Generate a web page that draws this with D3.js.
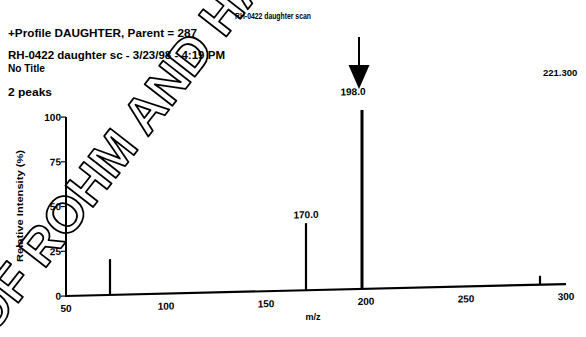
<!DOCTYPE html>
<html>
<head>
<meta charset="utf-8">
<script src="https://cdn.jsdelivr.net/npm/d3@7"></script>
<style>
body{margin:0;background:#fff}
svg text{font-family:"Liberation Sans",Arial,sans-serif;font-weight:bold;fill:#000}
</style>
</head>
<body>
<svg id="chart" width="586" height="337"></svg>
<script>
var mz = [72, 170, 198, 287]
var intensity = [20, 37.5, 100, 5]
var peakLabels = [["170.0",170],["198.0",198]]
var xTicks = [50,100,150,200,250,300]
var yTicks = [0,25,50,75,100]
var header = ["+Profile DAUGHTER, Parent = 287","RH-0422 daughter sc - 3/23/98 - 4:19 PM","No Title","2 peaks"]

var svg = d3.select("#chart")
var x = d3.scaleLinear().domain([50,300]).range([66,566])
var y = d3.scaleLinear().domain([0,100]).range([296,117])

// header block
var hy = [33,55,68,92], hw = [189,217,37,44]
header.forEach(function(t,i){
	svg.append("text").attr("x",8).attr("y",hy[i]+3.5).attr("font-size",10)
		.attr("textLength",hw[i]).attr("lengthAdjust","spacingAndGlyphs").text(t)
})
svg.append("text").attr("transform","translate(235,18.5) scale(0.72,1)").attr("font-size",9.5)
	.text("RH-0422 daughter scan")
svg.append("text").attr("x",543).attr("y",75.5).attr("font-size",9.5).text("221.300")

// the scan is a little tilted, baseline rises to the right
var g = svg.append("g").attr("transform","translate(66,296) skewY(-1.37) translate(-66,-296)")

g.append("line").attr("x1",x(50)).attr("x2",x(50)).attr("y1",y(100)).attr("y2",y(0)+1)
	.attr("stroke","#000").attr("stroke-width",2)
g.append("line").attr("x1",x(50)).attr("x2",x(300)).attr("y1",y(0)).attr("y2",y(0))
	.attr("stroke","#000").attr("stroke-width",2.2)

yTicks.forEach(function(d){
	g.append("line").attr("x1",x(50)-5).attr("x2",x(50)).attr("y1",y(d)).attr("y2",y(d))
		.attr("stroke","#000").attr("stroke-width",1.2)
	g.append("text").attr("x",x(50)-5).attr("y",y(d)+3.5).attr("font-size",10)
		.attr("text-anchor","end").text(d)
})
xTicks.forEach(function(d){
	g.append("text").attr("x",x(d)).attr("y",y(0)+16).attr("font-size",10)
		.attr("text-anchor","middle").text(d)
})

g.selectAll(".peak").data(mz).enter().append("line").attr("class","peak")
	.attr("x1",function(d){return x(d)}).attr("x2",function(d){return x(d)})
	.attr("y1",y(0)).attr("y2",function(d,i){return y(intensity[i])})
	.attr("stroke","#000").attr("stroke-width",function(d,i){return i==2 ? 3:2.2})

peakLabels.forEach(function(p){
	var i = mz.indexOf(p[1])
	g.append("text").attr("x",x(p[1])-(i==2 ? 9:0)).attr("y",y(intensity[i])-(i==2 ? 15:5))
		.attr("font-size",10).attr("text-anchor","middle").text(p[0])
})

// arrow pointing at the parent daughter
var ax = x(198)-3
svg.append("line").attr("x1",ax).attr("x2",ax).attr("y1",37).attr("y2",70).attr("stroke","#000").attr("stroke-width",2)
svg.append("path").attr("d","M"+(ax-10.5)+",65L"+(ax+10.5)+",65L"+ax+",89Z").attr("fill","#000")

svg.append("text").attr("transform","translate(23,206) rotate(-90)").attr("font-size",9)
	.attr("text-anchor","middle").attr("textLength",112).attr("lengthAdjust","spacingAndGlyphs")
	.text("Relative Intensity (%)")
svg.append("text").attr("x",313).attr("y",320).attr("font-size",9).attr("text-anchor","middle").text("m/z")

// watermark
var wm = svg.append("g").attr("transform","translate(44,270) rotate(-52)")
wm.append("text").attr("x",0).attr("y",0).attr("font-size",51).text("ROHM AND HAAS")
	.style("fill","none").attr("stroke","#000").attr("stroke-width",1.8).attr("stroke-linejoin","round")
wm.append("text").attr("x",-14).attr("y",0).attr("font-size",51).attr("text-anchor","end").text("OF")
	.style("fill","none").attr("stroke","#000").attr("stroke-width",1.8).attr("stroke-linejoin","round")
</script>
</body>
</html>
